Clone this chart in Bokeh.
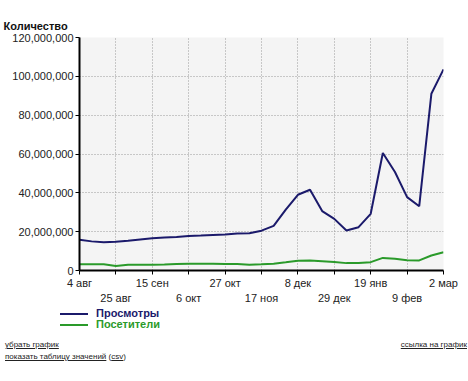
from bokeh.plotting import figure
from bokeh.layouts import column
from bokeh.models import (ColumnDataSource, FixedTicker, LinearAxis, NumeralTickFormatter,
                          Range1d, Grid, Div)
from bokeh.embed import file_html
from bokeh.resources import INLINE

# ---- data (weekly, 4 авг .. 2 мар) ----
week = list(range(31))
views = [15.8, 15.0, 14.6, 14.8, 15.3, 16.0, 16.6, 17.0, 17.3, 17.8, 18.0, 18.3, 18.6, 19.0, 19.2,
         20.5, 23.0, 31.3, 39.0, 41.6, 30.6, 26.6, 20.6, 22.3, 29.2, 60.5, 50.7, 37.8, 33.1, 91.0, 103.6]
visitors = [3.2, 3.2, 3.2, 2.3, 3.0, 3.0, 3.0, 3.1, 3.3, 3.5, 3.5, 3.5, 3.4, 3.3, 3.0, 3.2,
            3.5, 4.2, 5.0, 5.2, 4.8, 4.4, 3.8, 3.8, 4.3, 6.5, 6.0, 5.3, 5.2, 7.7, 9.4]
tick_pos_top = [0, 6, 12, 18, 24, 30]
tick_lab_top = ["4 авг", "15 сен", "27 окт", "8 дек", "19 янв", "2 мар"]
tick_pos_bot = [3, 9, 15, 21, 27]
tick_lab_bot = ["25 авг", "6 окт", "17 ноя", "29 дек", "9 фев"]
y_ticks = [0, 20e6, 40e6, 60e6, 80e6, 100e6, 120e6]
series_names = ["Просмотры", "Посетители"]

FONT = "Liberation Sans"
BLUE = "#1b1a6b"
GREEN = "#2a9a2a"

src = ColumnDataSource(dict(x=week, v=[a * 1e6 for a in views], u=[a * 1e6 for a in visitors]))

p = figure(width=468, height=306, output_backend="svg", toolbar_location=None,
           x_range=Range1d(0, 30), y_range=Range1d(0, 120e6),
           x_axis_type=None, y_axis_type=None,
           min_border_left=79, min_border_right=25, min_border_top=37, min_border_bottom=36)
p.outline_line_color = None
p.border_fill_color = "white"
p.background_fill_color = "#f4f4f4"

p.title.text = "Количество"
p.title.align = "left"
p.title.offset = -76
p.title.standoff = 12
p.title.text_font = FONT
p.title.text_font_size = "11px"
p.title.text_font_style = "bold"
p.title.text_color = "#111111"

# y axis
ya = LinearAxis(ticker=FixedTicker(ticks=y_ticks), formatter=NumeralTickFormatter(format="0,0"))
ya.axis_line_width = 2
ya.axis_line_color = "black"
ya.major_tick_in = 0
ya.major_tick_out = 4
ya.minor_tick_line_color = None
ya.major_label_text_font = FONT
ya.major_label_text_font_size = "11px"
ya.major_label_text_color = "#222222"
ya.major_label_standoff = 2
p.add_layout(ya, "left")

# x axis: two rows of labels
all_ticks = sorted(tick_pos_top + tick_pos_bot)
xa = LinearAxis(ticker=FixedTicker(ticks=all_ticks),
                major_label_overrides={**{t: l for t, l in zip(tick_pos_top, tick_lab_top)},
                                       **{t: "" for t in tick_pos_bot}})
xa.axis_line_width = 2
xa.axis_line_color = "black"
xa.major_tick_in = 0
xa.major_tick_out = 4
xa.minor_tick_line_color = None
xa.major_label_text_font = FONT
xa.major_label_text_font_size = "11px"
xa.major_label_text_color = "#222222"
xa.major_label_standoff = 2
p.add_layout(xa, "below")

xb = LinearAxis(ticker=FixedTicker(ticks=tick_pos_bot),
                major_label_overrides={t: l for t, l in zip(tick_pos_bot, tick_lab_bot)})
xb.axis_line_color = None
xb.major_tick_line_color = None
xb.minor_tick_line_color = None
xb.major_tick_in = 0
xb.major_tick_out = 0
xb.major_label_text_font = FONT
xb.major_label_text_font_size = "11px"
xb.major_label_text_color = "#222222"
xb.major_label_standoff = 0
p.add_layout(xb, "below")

# grids
for dim, tk in ((0, all_ticks), (1, y_ticks)):
    g = Grid(dimension=dim, ticker=FixedTicker(ticks=tk), grid_line_color="#9a9a9a",
             grid_line_dash="1 2", grid_line_width=1)
    p.add_layout(g)

p.line("x", "v", source=src, line_color=BLUE, line_width=2)
p.line("x", "u", source=src, line_color=GREEN, line_width=2)

# legend + links below the chart
def legend_row(name, col):
    return ('<div style="height:11px;line-height:11px;white-space:nowrap;">'
            '<span style="display:inline-block;width:28px;height:2px;background:%s;'
            'vertical-align:middle;margin-left:60px;"></span>'
            '<span style="margin-left:8px;color:%s;font-weight:bold;font-size:11px;'
            'vertical-align:middle;">%s</span></div>' % (col, col, name))

bottom = Div(width=468, height=75, margin=0, text=(
    '<div style="font-family:\'Liberation Sans\',sans-serif;width:468px;padding-top:2px;">'
    + legend_row(series_names[0], BLUE) + legend_row(series_names[1], GREEN) +
    '<div style="font-size:8px;color:#222;line-height:12px;padding:9px 0 0 5px;width:460px;">'
    '<div style="display:flex;justify-content:space-between;">'
    '<u>убрать график</u><u style="margin-right:-7px;">ссылка на график</u></div>'
    '<div><u>показать таблицу значений</u> (<u>csv</u>)</div></div></div>'))

layout = column(p, bottom, spacing=0)
open("out.html", "w").write(file_html(layout, INLINE))
